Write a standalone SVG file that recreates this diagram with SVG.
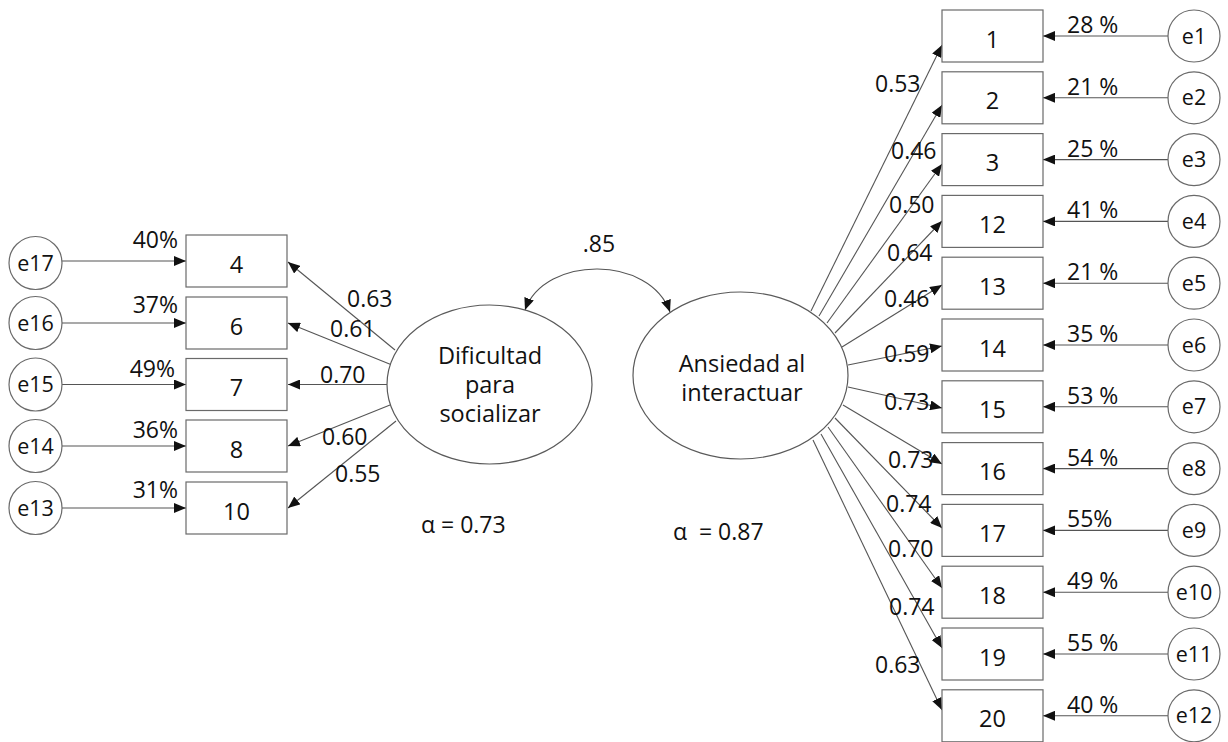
<svg xmlns="http://www.w3.org/2000/svg" width="1228" height="742" viewBox="0 0 1228 742">
<style>
text{font-family:"Open Sans","Liberation Sans",sans-serif;fill:#111;}
.box{fill:#fff;stroke:#6a6a6a;stroke-width:1.2;}
.circ{fill:#fff;stroke:#6a6a6a;stroke-width:1.2;}
.lat{fill:#fff;stroke:#5a5a5a;stroke-width:1.2;}
.ln{fill:none;stroke:#555;stroke-width:1.1;marker-end:url(#ah);}
.num{font-size:23.5px;text-anchor:middle;}
.el{font-size:21.5px;text-anchor:middle;}
.lab{font-size:23px;}
.pl{font-size:23px;text-anchor:end;}
.lt{font-size:23.5px;text-anchor:middle;}
</style>
<defs>
<marker id="ah" markerUnits="userSpaceOnUse" markerWidth="13" markerHeight="10" refX="12" refY="5" orient="auto-start-reverse">
<path d="M0,0 L12,5 L0,10 z" fill="#111"/>
</marker>
</defs>
<rect width="1228" height="742" fill="#fff"/>

<g id="connectors">
<line class="ln" x1="62" y1="261" x2="186" y2="261"/>
<line class="ln" x1="62" y1="323" x2="186" y2="323"/>
<line class="ln" x1="62" y1="384.5" x2="186" y2="384.5"/>
<line class="ln" x1="62" y1="446" x2="186" y2="446"/>
<line class="ln" x1="62" y1="508" x2="186" y2="508"/>
<line class="ln" x1="395" y1="350" x2="288" y2="262"/>
<line class="ln" x1="392" y1="365" x2="288" y2="323"/>
<line class="ln" x1="387" y1="384.5" x2="288" y2="384.5"/>
<line class="ln" x1="390" y1="405" x2="288" y2="446"/>
<line class="ln" x1="396" y1="421" x2="288" y2="508"/>
<line class="ln" x1="811" y1="311" x2="942" y2="45"/>
<line class="ln" x1="819" y1="316" x2="942" y2="105"/>
<line class="ln" x1="827" y1="323" x2="942" y2="164"/>
<line class="ln" x1="835" y1="333" x2="942" y2="221"/>
<line class="ln" x1="842" y1="347" x2="942" y2="285"/>
<line class="ln" x1="848" y1="365" x2="942" y2="346"/>
<line class="ln" x1="848" y1="387" x2="942" y2="408"/>
<line class="ln" x1="843" y1="405" x2="942" y2="464"/>
<line class="ln" x1="835" y1="418" x2="942" y2="528"/>
<line class="ln" x1="828" y1="427" x2="942" y2="588"/>
<line class="ln" x1="821" y1="434" x2="942" y2="648"/>
<line class="ln" x1="813" y1="440" x2="942" y2="710"/>
<line class="ln" x1="1168" y1="36" x2="1043" y2="36"/>
<line class="ln" x1="1168" y1="97.8" x2="1043" y2="97.8"/>
<line class="ln" x1="1168" y1="159.6" x2="1043" y2="159.6"/>
<line class="ln" x1="1168" y1="221.4" x2="1043" y2="221.4"/>
<line class="ln" x1="1168" y1="283.2" x2="1043" y2="283.2"/>
<line class="ln" x1="1168" y1="345" x2="1043" y2="345"/>
<line class="ln" x1="1168" y1="406.8" x2="1043" y2="406.8"/>
<line class="ln" x1="1168" y1="468.6" x2="1043" y2="468.6"/>
<line class="ln" x1="1168" y1="530.4" x2="1043" y2="530.4"/>
<line class="ln" x1="1168" y1="592.2" x2="1043" y2="592.2"/>
<line class="ln" x1="1168" y1="654" x2="1043" y2="654"/>
<line class="ln" x1="1168" y1="715.8" x2="1043" y2="715.8"/>
<path d="M525,310 C545,255 650,255 670,312" fill="none" stroke="#555" stroke-width="1.1" marker-start="url(#ah)" marker-end="url(#ah)"/>
</g>

<g id="labels">
<text class="pl" x="178" y="248">40%</text>
<text class="pl" x="178" y="313">37%</text>
<text class="pl" x="175" y="377">49%</text>
<text class="pl" x="178" y="438">36%</text>
<text class="pl" x="178" y="498">31%</text>
<text class="lab" x="347" y="307">0.63</text>
<text class="lab" x="330" y="337">0.61</text>
<text class="lab" x="320" y="383">0.70</text>
<text class="lab" x="322" y="445">0.60</text>
<text class="lab" x="335" y="482">0.55</text>
<text class="lab" x="875" y="92">0.53</text>
<text class="lab" x="891" y="159">0.46</text>
<text class="lab" x="889" y="213">0.50</text>
<text class="lab" x="887" y="261">0.64</text>
<text class="lab" x="884" y="307">0.46</text>
<text class="lab" x="884" y="362">0.59</text>
<text class="lab" x="884" y="410">0.73</text>
<text class="lab" x="888" y="468">0.73</text>
<text class="lab" x="886" y="512">0.74</text>
<text class="lab" x="888" y="557">0.70</text>
<text class="lab" x="889" y="615">0.74</text>
<text class="lab" x="875" y="673">0.63</text>
<text class="lab" x="1067" y="33">28 %</text>
<text class="lab" x="1067" y="95">21 %</text>
<text class="lab" x="1067" y="157">25 %</text>
<text class="lab" x="1067" y="218">41 %</text>
<text class="lab" x="1067" y="280">21 %</text>
<text class="lab" x="1067" y="342">35 %</text>
<text class="lab" x="1067" y="404">53 %</text>
<text class="lab" x="1067" y="466">54 %</text>
<text class="lab" x="1067" y="527">55%</text>
<text class="lab" x="1067" y="589">49 %</text>
<text class="lab" x="1067" y="651">55 %</text>
<text class="lab" x="1067" y="713">40 %</text>
<text class="lab" x="599" y="252" text-anchor="middle">.85</text>
<text class="lab" x="421" y="533">α = 0.73</text>
<text class="lab" x="673" y="540" style="white-space:pre">α  = 0.87</text>
</g>

<g id="e17"><circle class="circ" cx="35.5" cy="263" r="26.5"/><text class="el" x="35.5" y="270.5">e17</text></g>
<g id="e16"><circle class="circ" cx="35.5" cy="323" r="26.5"/><text class="el" x="35.5" y="330.5">e16</text></g>
<g id="e15"><circle class="circ" cx="35.5" cy="384.5" r="26.5"/><text class="el" x="35.5" y="392">e15</text></g>
<g id="e14"><circle class="circ" cx="35.5" cy="446" r="26.5"/><text class="el" x="35.5" y="453.5">e14</text></g>
<g id="e13"><circle class="circ" cx="35.5" cy="508" r="26.5"/><text class="el" x="35.5" y="515.5">e13</text></g>

<g id="b4"><rect class="box" x="186" y="235" width="101" height="52"/><text class="num" x="236.5" y="272.5">4</text></g>
<g id="b6"><rect class="box" x="186" y="297" width="101" height="52"/><text class="num" x="236.5" y="334.5">6</text></g>
<g id="b7"><rect class="box" x="186" y="358.5" width="101" height="52"/><text class="num" x="236.5" y="396">7</text></g>
<g id="b8"><rect class="box" x="186" y="420" width="101" height="52"/><text class="num" x="236.5" y="457.5">8</text></g>
<g id="b10"><rect class="box" x="186" y="482" width="101" height="52"/><text class="num" x="236.5" y="519.5">10</text></g>

<g id="dificultad"><ellipse class="lat" cx="489.5" cy="384.5" rx="102.5" ry="79.5"/>
<text class="lt" x="490" y="364">Dificultad</text><text class="lt" x="490" y="393">para</text><text class="lt" x="490" y="422">socializar</text></g>
<g id="ansiedad"><ellipse class="lat" cx="740.5" cy="375.5" rx="107.5" ry="83.5"/>
<text class="lt" x="742" y="372">Ansiedad al</text><text class="lt" x="742" y="401">interactuar</text></g>

<g id="b1"><rect class="box" x="942" y="10" width="101" height="52"/><text class="num" x="992.5" y="47.5">1</text></g>
<g id="b2"><rect class="box" x="942" y="71.8" width="101" height="52"/><text class="num" x="992.5" y="109.3">2</text></g>
<g id="b3"><rect class="box" x="942" y="133.6" width="101" height="52"/><text class="num" x="992.5" y="171.1">3</text></g>
<g id="b12"><rect class="box" x="942" y="195.4" width="101" height="52"/><text class="num" x="992.5" y="232.9">12</text></g>
<g id="b13"><rect class="box" x="942" y="257.2" width="101" height="52"/><text class="num" x="992.5" y="294.7">13</text></g>
<g id="b14"><rect class="box" x="942" y="319" width="101" height="52"/><text class="num" x="992.5" y="356.5">14</text></g>
<g id="b15"><rect class="box" x="942" y="380.8" width="101" height="52"/><text class="num" x="992.5" y="418.3">15</text></g>
<g id="b16"><rect class="box" x="942" y="442.6" width="101" height="52"/><text class="num" x="992.5" y="480.1">16</text></g>
<g id="b17"><rect class="box" x="942" y="504.4" width="101" height="52"/><text class="num" x="992.5" y="541.9">17</text></g>
<g id="b18"><rect class="box" x="942" y="566.2" width="101" height="52"/><text class="num" x="992.5" y="603.7">18</text></g>
<g id="b19"><rect class="box" x="942" y="628" width="101" height="52"/><text class="num" x="992.5" y="665.5">19</text></g>
<g id="b20"><rect class="box" x="942" y="689.8" width="101" height="52"/><text class="num" x="992.5" y="727.3">20</text></g>

<g id="e1"><circle class="circ" cx="1194" cy="36" r="26"/><text class="el" x="1194" y="43.5">e1</text></g>
<g id="e2"><circle class="circ" cx="1194" cy="97.8" r="26"/><text class="el" x="1194" y="105.3">e2</text></g>
<g id="e3"><circle class="circ" cx="1194" cy="159.6" r="26"/><text class="el" x="1194" y="167.1">e3</text></g>
<g id="e4"><circle class="circ" cx="1194" cy="221.4" r="26"/><text class="el" x="1194" y="228.9">e4</text></g>
<g id="e5"><circle class="circ" cx="1194" cy="283.2" r="26"/><text class="el" x="1194" y="290.7">e5</text></g>
<g id="e6"><circle class="circ" cx="1194" cy="345" r="26"/><text class="el" x="1194" y="352.5">e6</text></g>
<g id="e7"><circle class="circ" cx="1194" cy="406.8" r="26"/><text class="el" x="1194" y="414.3">e7</text></g>
<g id="e8"><circle class="circ" cx="1194" cy="468.6" r="26"/><text class="el" x="1194" y="476.1">e8</text></g>
<g id="e9"><circle class="circ" cx="1194" cy="530.4" r="26"/><text class="el" x="1194" y="537.9">e9</text></g>
<g id="e10"><circle class="circ" cx="1194" cy="592.2" r="26"/><text class="el" x="1194" y="599.7">e10</text></g>
<g id="e11"><circle class="circ" cx="1194" cy="654" r="26"/><text class="el" x="1194" y="661.5">e11</text></g>
<g id="e12"><circle class="circ" cx="1194" cy="715.8" r="26"/><text class="el" x="1194" y="723.3">e12</text></g>
</svg>
